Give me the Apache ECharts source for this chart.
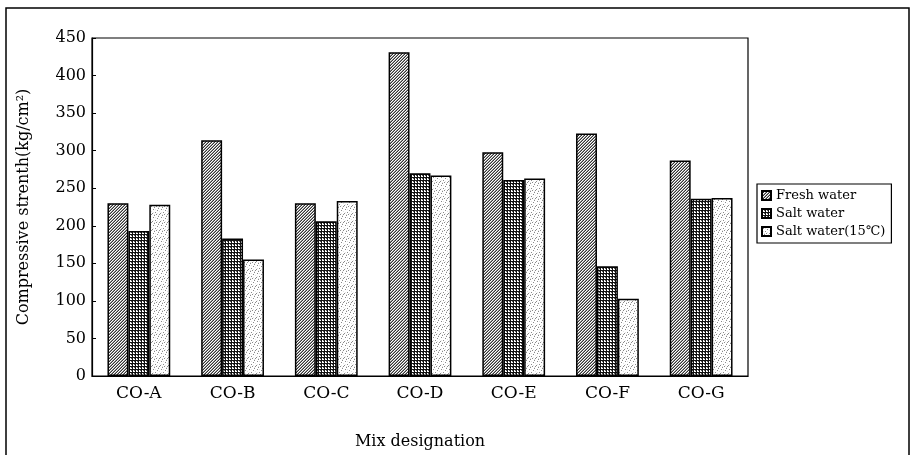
<!DOCTYPE html>
<html>
<head>
<meta charset="utf-8">
<script src="https://cdn.jsdelivr.net/npm/echarts@6/dist/echarts.min.js"></script>
<style>html,body{margin:0;padding:0;background:#fff}#c{width:912px;height:455px}</style>
</head>
<body>
<div id="c"></div>
<script>
const categories = ['CO-A','CO-B','CO-C','CO-D','CO-E','CO-F','CO-G'];
const seriesNames = ['Fresh water','Salt water','Salt water(15\u2103)'];
const freshWater = [230, 314, 230, 431, 298, 323, 287];
const saltWater = [193, 183, 206, 270, 261, 146, 236];
const saltWater15 = [228, 155, 233, 267, 263, 103, 237];
const yTicks = [0, 50, 100, 150, 200, 250, 300, 350, 400, 450];

function makePattern(kind) {
  const c = document.createElement('canvas');
  const s = kind === 'dots' ? 8 : 3;
  c.width = s; c.height = s;
  const g = c.getContext('2d');
  g.fillStyle = '#fff'; g.fillRect(0, 0, s, s);
  if (kind === 'hatch') {
    g.fillStyle = '#333';
    g.fillRect(2, 0, 1, 1); g.fillRect(1, 1, 1, 1); g.fillRect(0, 2, 1, 1);
    g.fillStyle = '#999';
    g.fillRect(1, 0, 1, 1); g.fillRect(0, 1, 1, 1); g.fillRect(2, 2, 1, 1);
  } else if (kind === 'grid') {
    g.fillStyle = '#111';
    g.fillRect(0, 0, s, 1);
    g.fillRect(0, 0, 1, s);
    g.fillStyle = '#555';
    g.fillRect(2, 1, 1, 1);
  } else {
    g.fillStyle = '#8a8a8a';
    const pts = [[1,1],[5,2],[3,4],[7,6],[2,7],[6,0],[0,5],[4,6]];
    pts.forEach(p => g.fillRect(p[0], p[1], 1, 1));
    g.fillStyle = '#e4e4e4';
    const pts2 = [[3,1],[7,3],[1,4],[5,5],[6,7],[2,6]];
    pts2.forEach(p => g.fillRect(p[0], p[1], 1, 1));
  }
  return { image: c, repeat: 'repeat' };
}

const patterns = [makePattern('hatch'), makePattern('grid'), makePattern('dots')];
const dataSets = [freshWater, saltWater, saltWater15];
const font = 'DejaVu Serif';

const chart = echarts.init(document.getElementById('c'), null, { renderer: 'canvas' });
chart.setOption({
  animation: false,
  backgroundColor: '#fff',
  textStyle: { fontFamily: font, color: '#000' },
  graphic: [{
    type: 'rect', shape: { x: 6, y: 8, width: 903, height: 460 },
    style: { fill: 'none', stroke: '#000', lineWidth: 1.5 }, silent: true
  }],
  grid: { left: 92, right: 164, top: 38, bottom: 77, show: true, borderColor: '#000', borderWidth: 1.2, backgroundColor: 'transparent' },
  legend: {
    orient: 'vertical', left: 757, top: 184,
    itemWidth: 9, itemHeight: 9, itemGap: 5,
    padding: [5, 6, 5, 4],
    borderColor: '#000', borderWidth: 1.2,
    icon: 'rect',
    textStyle: { fontFamily: font, fontSize: 13, color: '#000' },
    data: seriesNames
  },
  xAxis: {
    type: 'category', data: categories,
    name: 'Mix designation', nameLocation: 'middle', nameGap: 58,
    nameTextStyle: { fontFamily: font, fontSize: 16, color: '#000' },
    axisLine: { lineStyle: { color: '#000', width: 1.2 } },
    axisTick: { inside: true, length: 4, lineStyle: { color: '#000' } },
    axisLabel: { fontFamily: font, fontSize: 17, color: '#000', margin: 9 }
  },
  yAxis: {
    type: 'value', min: 0, max: 450, interval: 50,
    name: 'Compressive strenth(kg/cm\u00b2)', nameLocation: 'middle', nameGap: 60,
    nameTextStyle: { fontFamily: font, fontSize: 16, color: '#000' },
    axisLine: { show: true, lineStyle: { color: '#000', width: 1.2 } },
    axisTick: { show: true, inside: true, length: 4, lineStyle: { color: '#000' } },
    axisLabel: { fontFamily: font, fontSize: 16, color: '#000', margin: 6,
      formatter: v => yTicks.indexOf(v) >= 0 ? String(v) : '' },
    splitLine: { show: false }
  },
  series: seriesNames.map((n, i) => ({
    name: n, type: 'bar', data: dataSets[i],
    barGap: '0%', barCategoryGap: '33%',
    itemStyle: { color: patterns[i], borderColor: '#000', borderWidth: 1.5 }
  }))
});
</script>
</body>
</html>
